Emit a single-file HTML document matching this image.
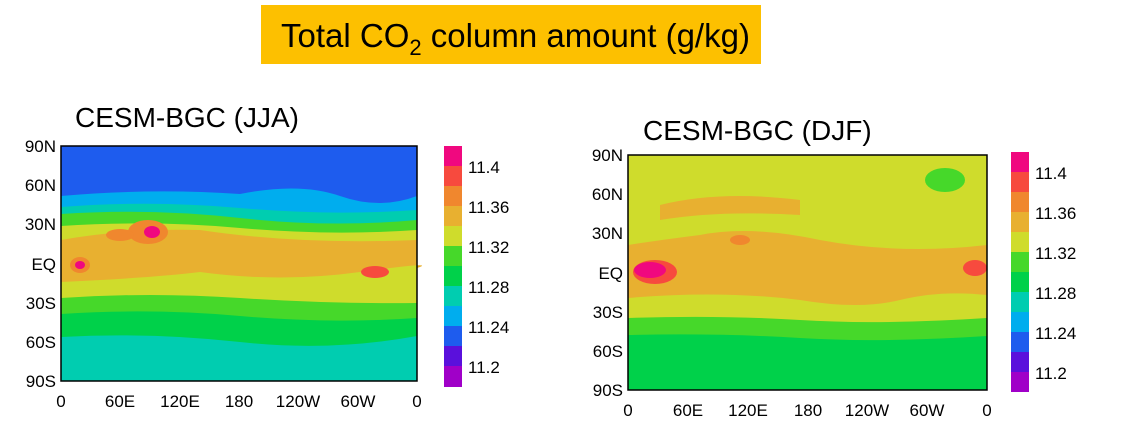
<!DOCTYPE html>
<html><head><style>
body{margin:0;width:1124px;height:431px;background:#fff;overflow:hidden;font-family:"Liberation Sans",sans-serif}
</style></head><body>
<svg width="1124" height="431" xmlns="http://www.w3.org/2000/svg" font-family="Liberation Sans, sans-serif">
<rect x="261" y="5" width="500" height="59" fill="#fdc000"/>
<text x="281" y="47" font-size="33">Total CO<tspan font-size="22" dy="8">2</tspan><tspan dy="-8"> column amount (g/kg)</tspan></text>
<text x="75" y="127" font-size="28">CESM-BGC (JJA)</text>
<text x="643" y="140" font-size="28">CESM-BGC (DJF)</text>

<!-- Left map -->
<g>
<rect x="61" y="146" width="356" height="235" fill="#00cdb0"/>
<path d="M61 337 Q150 332 240 342 T417 336 L417 146 L61 146Z" fill="#00d14a"/>
<path d="M61 314 Q150 308 240 316 T417 318 L417 146 L61 146Z" fill="#46d82a"/>
<path d="M61 298 Q150 292 240 298 T417 303 L417 146 L61 146Z" fill="#cfdc2c"/>
<path d="M61 282 Q150 278 200 272 Q280 283 360 272 T417 268 L417 240 Q300 245 200 230 Q130 228 61 240Z" fill="#e8b030"/>
<path d="M61 226 Q150 220 240 228 T417 230 L417 146 L61 146Z" fill="#46d82a"/>
<path d="M61 214 Q150 208 240 218 T417 220 L417 146 L61 146Z" fill="#00cdb0"/>
<path d="M61 207 Q150 200 240 208 T417 210 L417 146 L61 146Z" fill="#00adee"/>
<path d="M61 196 Q150 188 240 194 Q300 182 340 196 T417 196 L417 146 L61 146Z" fill="#1e5cee"/>
<ellipse cx="148" cy="232" rx="20" ry="12" fill="#f0872e"/>
<ellipse cx="152" cy="232" rx="8" ry="6" fill="#f0087f"/>
<ellipse cx="120" cy="235" rx="14" ry="6" fill="#f0872e"/>
<ellipse cx="80" cy="265" rx="10" ry="8" fill="#f0872e"/>
<ellipse cx="80" cy="265" rx="5" ry="4" fill="#f0087f"/>
<ellipse cx="375" cy="272" rx="14" ry="6" fill="#f74a3e"/>
<rect x="61" y="146" width="356" height="235" fill="none" stroke="#000" stroke-width="1.5"/>
</g>
<g font-size="17" text-anchor="end">
<text x="56" y="152">90N</text><text x="56" y="191">60N</text><text x="56" y="230">30N</text><text x="56" y="270">EQ</text><text x="56" y="309">30S</text><text x="56" y="348">60S</text><text x="56" y="387">90S</text>
</g>
<g font-size="17" text-anchor="middle">
<text x="61" y="407">0</text><text x="120" y="407">60E</text><text x="180" y="407">120E</text><text x="239" y="407">180</text><text x="298" y="407">120W</text><text x="358" y="407">60W</text><text x="417" y="407">0</text>
</g>
<g>
<rect x="444" y="146" width="18" height="21" fill="#f0087f"/>
<rect x="444" y="166" width="18" height="21" fill="#f74a3e"/>
<rect x="444" y="186" width="18" height="21" fill="#f0872e"/>
<rect x="444" y="206" width="18" height="21" fill="#e8b030"/>
<rect x="444" y="226" width="18" height="21" fill="#cfdc2c"/>
<rect x="444" y="246" width="18" height="21" fill="#46d82a"/>
<rect x="444" y="266" width="18" height="21" fill="#00d14a"/>
<rect x="444" y="286" width="18" height="21" fill="#00cdb0"/>
<rect x="444" y="306" width="18" height="21" fill="#00adee"/>
<rect x="444" y="326" width="18" height="21" fill="#1e5cee"/>
<rect x="444" y="346" width="18" height="21" fill="#5a10dc"/>
<rect x="444" y="366" width="18" height="21" fill="#a000c8"/>
</g>
<g font-size="17">
<text x="468" y="173">11.4</text><text x="468" y="213">11.36</text><text x="468" y="253">11.32</text><text x="468" y="293">11.28</text><text x="468" y="333">11.24</text><text x="468" y="373">11.2</text>
</g>

<!-- Right map -->
<g>
<rect x="628" y="155" width="359" height="235" fill="#00d14a"/>
<path d="M628 335 Q720 333 800 338 T987 336 L987 155 L628 155Z" fill="#46d82a"/>
<path d="M628 318 Q720 315 800 320 T987 318 L987 155 L628 155Z" fill="#cfdc2c"/>
<path d="M628 298 Q720 290 800 300 Q860 310 900 300 T987 295 L987 245 Q900 255 820 240 Q750 225 700 235 Q660 240 628 245Z" fill="#e8b030"/>
<path d="M660 205 Q720 190 800 200 L800 215 Q720 210 660 220Z" fill="#e8b030"/>
<ellipse cx="655" cy="272" rx="22" ry="12" fill="#f74a3e"/>
<ellipse cx="650" cy="270" rx="16" ry="8" fill="#f0087f"/>
<ellipse cx="975" cy="268" rx="12" ry="8" fill="#f74a3e"/>
<ellipse cx="740" cy="240" rx="10" ry="5" fill="#f0872e"/>
<ellipse cx="945" cy="180" rx="20" ry="12" fill="#46d82a"/>
<rect x="628" y="155" width="359" height="235" fill="none" stroke="#000" stroke-width="1.5"/>
</g>
<g font-size="17" text-anchor="end">
<text x="623" y="161">90N</text><text x="623" y="200">60N</text><text x="623" y="239">30N</text><text x="623" y="279">EQ</text><text x="623" y="318">30S</text><text x="623" y="357">60S</text><text x="623" y="396">90S</text>
</g>
<g font-size="17" text-anchor="middle">
<text x="628" y="416">0</text><text x="688" y="416">60E</text><text x="748" y="416">120E</text><text x="808" y="416">180</text><text x="867" y="416">120W</text><text x="927" y="416">60W</text><text x="987" y="416">0</text>
</g>
<g>
<rect x="1011" y="152" width="18" height="21" fill="#f0087f"/>
<rect x="1011" y="172" width="18" height="21" fill="#f74a3e"/>
<rect x="1011" y="192" width="18" height="21" fill="#f0872e"/>
<rect x="1011" y="212" width="18" height="21" fill="#e8b030"/>
<rect x="1011" y="232" width="18" height="21" fill="#cfdc2c"/>
<rect x="1011" y="252" width="18" height="21" fill="#46d82a"/>
<rect x="1011" y="272" width="18" height="21" fill="#00d14a"/>
<rect x="1011" y="292" width="18" height="21" fill="#00cdb0"/>
<rect x="1011" y="312" width="18" height="21" fill="#00adee"/>
<rect x="1011" y="332" width="18" height="21" fill="#1e5cee"/>
<rect x="1011" y="352" width="18" height="21" fill="#5a10dc"/>
<rect x="1011" y="372" width="18" height="20" fill="#a000c8"/>
</g>
<g font-size="17">
<text x="1035" y="179">11.4</text><text x="1035" y="219">11.36</text><text x="1035" y="259">11.32</text><text x="1035" y="299">11.28</text><text x="1035" y="339">11.24</text><text x="1035" y="379">11.2</text>
</g>
</svg>
</body></html>
